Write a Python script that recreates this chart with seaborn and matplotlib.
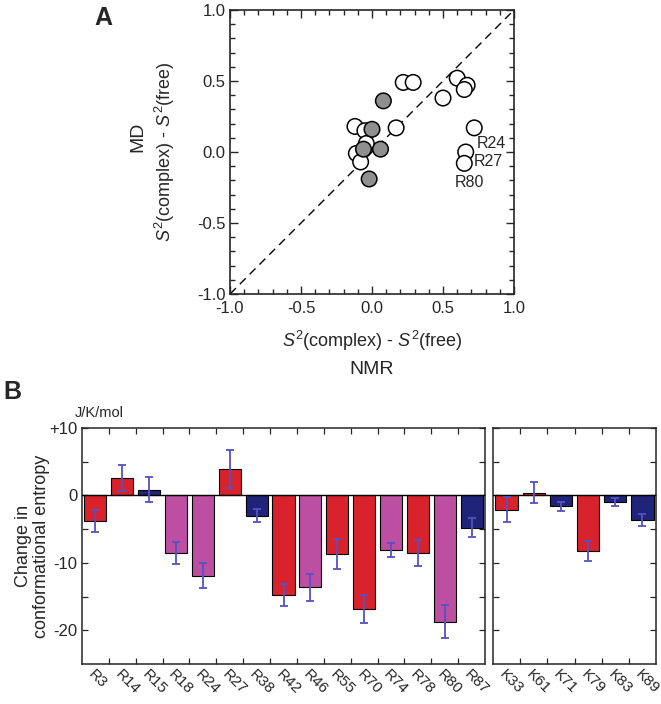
"""
Panel A: MD vs NMR order-parameter changes; Panel B: conformational entropy per residue
"""

import numpy as np
import pandas as pd
import matplotlib
matplotlib.use('Agg')
import matplotlib.pyplot as plt
from matplotlib.ticker import MultipleLocator, FixedLocator
from matplotlib.transforms import ScaledTranslation
import seaborn as sns

# ============================================================================
# 1. DATA
# ============================================================================

# panel A - open circles (Arg) and filled circles (Lys)
open_nmr = [0.22, 0.29, 0.60, 0.67, 0.65, 0.50, 0.72, 0.66, 0.65,
            -0.12, -0.05, 0.17, -0.04, -0.11, -0.08]
open_md = [0.49, 0.49, 0.52, 0.47, 0.44, 0.38, 0.17, 0.00, -0.08,
           0.18, 0.15, 0.17, 0.06, -0.01, -0.07]
filled_nmr = [0.08, 0.00, -0.06, 0.06, -0.02]
filled_md = [0.36, 0.16, 0.02, 0.02, -0.19]

annot_labels = ['R24', 'R27', 'R80']
annot_x = [0.74, 0.72, 0.585]
annot_y = [0.06, -0.065, -0.215]

# panel B - arginines
arg_res = ['R3', 'R14', 'R15', 'R18', 'R24', 'R27', 'R38', 'R42',
           'R46', 'R55', 'R70', 'R74', 'R78', 'R80', 'R87']
arg_val = [-3.8, 2.6, 0.85, -8.5, -11.9, 3.9, -3.0, -14.75,
           -13.6, -8.7, -16.8, -8.1, -8.5, -18.7, -4.8]
arg_err = [1.6, 1.9, 1.85, 1.6, 1.9, 2.8, 1.0, 1.6,
           2.0, 2.2, 2.1, 1.1, 1.9, 2.4, 1.4]
arg_cls = ['red', 'red', 'navy', 'pink', 'pink', 'red', 'navy', 'red',
           'pink', 'red', 'red', 'pink', 'red', 'pink', 'navy']

# panel B - lysines
lys_res = ['K33', 'K61', 'K71', 'K79', 'K83', 'K89']
lys_val = [-2.1, 0.4, -1.6, -8.2, -0.95, -3.7]
lys_err = [1.85, 1.55, 0.65, 1.5, 0.6, 0.9]
lys_cls = ['red', 'red', 'navy', 'red', 'navy', 'navy']

cls_colors = {'red': '#d8222c', 'pink': '#bd4fa3', 'navy': '#1f2479'}
err_color = '#5552c2'

# ============================================================================
# 2. STYLE
# ============================================================================

sns.set_style('ticks')
plt.rcParams['font.family'] = ['Liberation Sans', 'DejaVu Sans']
plt.rcParams['mathtext.fontset'] = 'custom'
plt.rcParams['mathtext.rm'] = 'Liberation Sans'
plt.rcParams['mathtext.it'] = 'Liberation Sans:italic'

s2_label = r'$S^{\mathrm{2}}$(complex) - $S^{\mathrm{2}}$(free)'

W, H = 661, 704
fig = plt.figure(figsize=(W / 100, H / 100), dpi=100)


def frac(x0, y0, x1, y1):
    return [x0 / W, 1 - y1 / H, (x1 - x0) / W, (y1 - y0) / H]


# ============================================================================
# 3. PANEL A - scatter
# ============================================================================

ax_a = fig.add_axes(frac(230, 10, 514, 294))

df_a = pd.DataFrame({
    'nmr': open_nmr + filled_nmr,
    'md': open_md + filled_md,
    'kind': ['open'] * len(open_nmr) + ['filled'] * len(filled_nmr),
})

ax_a.plot([-1, 1], [-1, 1], color='black', lw=1.0, dashes=(6, 4), zorder=1)
sns.scatterplot(data=df_a, x='nmr', y='md', hue='kind',
                palette={'open': 'white', 'filled': '#8f8f8f'},
                edgecolor='black', linewidth=1.1, s=125, legend=False,
                ax=ax_a, zorder=3)

for lab, tx, ty in zip(annot_labels, annot_x, annot_y):
    ax_a.text(tx, ty, lab, fontsize=11.5, ha='left', va='center')

ax_a.set_xlim(-1, 1)
ax_a.set_ylim(-1, 1)
ax_a.xaxis.set_major_locator(MultipleLocator(0.5))
ax_a.yaxis.set_major_locator(MultipleLocator(0.5))
ax_a.xaxis.set_minor_locator(MultipleLocator(0.1))
ax_a.yaxis.set_minor_locator(MultipleLocator(0.1))
ax_a.xaxis.set_major_formatter(lambda v, p: f'{v:.1f}')
ax_a.yaxis.set_major_formatter(lambda v, p: f'{v:.1f}')
ax_a.tick_params(which='both', direction='in', top=True, right=True,
                 labelsize=12, width=1.0)
ax_a.tick_params(axis='x', which='major', pad=5)
ax_a.tick_params(axis='y', which='major', pad=3)
ax_a.tick_params(which='major', length=6)
ax_a.tick_params(which='minor', length=3.5)
for sp in ax_a.spines.values():
    sp.set_linewidth(1.2)
ax_a.set_xlabel('')
ax_a.set_ylabel('')

fig.text(372 / W, 1 - 341 / H, s2_label, fontsize=13, ha='center', va='center')
fig.text(372 / W, 1 - 369 / H, 'NMR', fontsize=14, ha='center', va='center')
fig.text(138 / W, 1 - 137 / H, 'MD', fontsize=14, ha='center', va='center',
         rotation=90)
fig.text(165 / W, 1 - 152 / H, s2_label, fontsize=13, ha='center',
         va='center', rotation=90)

fig.text(103 / W, 1 - 18 / H, 'A', fontsize=18, fontweight='bold',
         ha='center', va='center')

# ============================================================================
# 4. PANEL B - bars
# ============================================================================

ax_b1 = fig.add_axes(frac(82, 428, 485, 664))
ax_b2 = fig.add_axes(frac(493, 428, 656, 664))


def draw_bars(ax, res, val, err, cls):
    df = pd.DataFrame({'res': res, 'val': val, 'err': err, 'cls': cls})
    pal = {r: cls_colors[c] for r, c in zip(res, cls)}
    sns.barplot(data=df, x='res', y='val', hue='res', palette=pal,
                legend=False, width=0.82, edgecolor='black', linewidth=0.8,
                errorbar=None, saturation=1, ax=ax, zorder=2)
    ax.errorbar(np.arange(len(df)), df['val'], yerr=df['err'], fmt='none',
                ecolor=err_color, elinewidth=1.3, capsize=3, capthick=1.3,
                zorder=4)
    ax.axhline(0, color='black', lw=1.0, zorder=3)
    n = len(df)
    ax.set_xlim(-0.5, n - 0.5)
    ax.set_ylim(-25, 10)
    ax.xaxis.set_minor_locator(FixedLocator(np.arange(n - 1) + 0.5))
    ax.tick_params(axis='x', which='major', length=0, pad=6)
    ax.tick_params(axis='x', which='minor', direction='in', length=4,
                   top=True, bottom=True, width=0.9)
    ax.set_xticks(np.arange(n))
    ax.set_xticklabels(res, rotation=-45, ha='left', va='center',
                       rotation_mode='anchor', fontsize=11)
    shift = ScaledTranslation(-5 / 100, 0, fig.dpi_scale_trans)
    for lab in ax.get_xticklabels():
        lab.set_transform(lab.get_transform() + shift)
    ax.set_yticks([10, 5, 0, -5, -10, -15, -20])
    ax.tick_params(axis='y', direction='in', length=4, right=True,
                   width=0.9, labelsize=12)
    for sp in ax.spines.values():
        sp.set_linewidth(1.1)
    ax.set_xlabel('')
    ax.set_ylabel('')


draw_bars(ax_b1, arg_res, arg_val, arg_err, arg_cls)
draw_bars(ax_b2, lys_res, lys_val, lys_err, lys_cls)

ax_b1.set_yticklabels(['+10', '', '0', '', '-10', '', '-20'])
ax_b2.set_yticklabels([])

fig.text(75 / W, 1 - 413 / H, 'J/K/mol', fontsize=10.5, ha='left', va='center')
fig.text(23 / W, 1 - 546 / H, 'Change in', fontsize=13, ha='center',
         va='center', rotation=90)
fig.text(42 / W, 1 - 546 / H, 'conformational entropy', fontsize=13,
         ha='center', va='center', rotation=90)
fig.text(12 / W, 1 - 392 / H, 'B', fontsize=18, fontweight='bold',
         ha='center', va='center')

fig.savefig('out.png', dpi=100)
plt.close(fig)
